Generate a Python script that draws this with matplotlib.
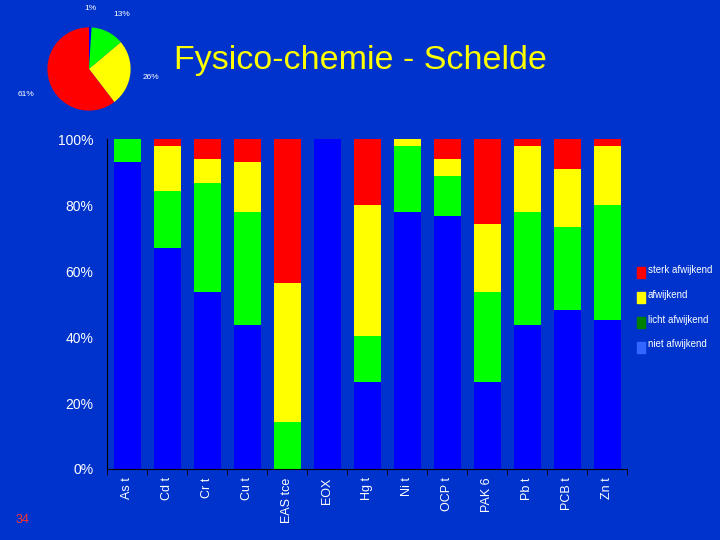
import numpy as np
import matplotlib
matplotlib.use('Agg')
import matplotlib.pyplot as plt

plt.rcParams['font.family'] = ['Liberation Sans', 'DejaVu Sans']

# share per parameter (%), stacked bottom to top
parameters = ["As t", "Cd t", "Cr t", "Cu t", "EAS tce", "EOX", "Hg t",
              "Ni t", "OCP t", "PAK 6", "Pb t", "PCB t", "Zn t"]
niet = [93, 67, 53.6, 43.7, 0, 100, 26.4, 78, 76.7, 26.4, 43.6, 48.2, 45.2]
licht = [7, 17.3, 33.2, 34.2, 14.2, 0, 13.9, 19.9, 12.1, 27.2, 34.3, 25.1, 34.8]
afwijkend = [0, 13.6, 7.1, 15.1, 42.2, 0, 39.7, 2.1, 5.1, 20.6, 20, 17.6, 17.9]
sterk = [0, 2.1, 6.1, 7, 43.6, 0, 20, 0, 6.1, 25.8, 2.1, 9.1, 2.1]

pie_values = [1, 13, 26, 61]
pie_labels = ["1%", "13%", "26%", "61%"]

series_labels = ["sterk afwijkend", "afwijkend", "licht afwijkend", "niet afwijkend"]
bar_colors = ["#FF0000", "#FFFF00", "#00FF00", "#0000FF"]
legend_colors = ["#FF0000", "#FFFF00", "#008000", "#3366FF"]
pie_colors = ["#0000FF", "#00FF00", "#FFFF00", "#FF0000"]

bg = "#0033CC"

fig = plt.figure(figsize=(7.2, 5.4), dpi=100, facecolor=bg)

ax = fig.add_axes([0.149, 0.1315, 0.722, 0.611])
ax.set_facecolor(bg)
x = np.arange(len(parameters))
width = 0.67
bottom = np.zeros(len(parameters))
stack = [niet, licht, afwijkend, sterk]
stack_colors = bar_colors[::-1]
for vals, col in zip(stack, stack_colors):
    ax.bar(x, vals, width, bottom=bottom, color=col, edgecolor="none")
    bottom += np.array(vals)

ax.set_xlim(-0.5, len(parameters) - 0.5)
ax.set_ylim(0, 100)
ax.set_yticks([0, 20, 40, 60, 80, 100])
ax.set_yticklabels(["0%", "20%", "40%", "60%", "80%", "100%"])
ax.set_xticks(x)
ax.set_xticklabels(parameters, rotation=90, va="top")
ax.set_xticks(np.arange(len(parameters) + 1) - 0.5, minor=True)
ax.tick_params(axis="x", which="major", length=0, colors="white", labelsize=9, pad=6)
ax.tick_params(axis="x", which="minor", length=4, color="black")
ax.tick_params(axis="y", length=0, colors="white", labelsize=10, pad=10)
for s in ["top", "right"]:
    ax.spines[s].set_visible(False)
for s in ["left", "bottom"]:
    ax.spines[s].set_color("black")

# legend
for i, (lab, col) in enumerate(zip(series_labels, legend_colors)):
    yy = 1 - (272 + i * 24.7) / 540
    fig.patches.append(plt.Rectangle((637 / 720, yy - 0.012), 8 / 720, 11 / 540,
                                     transform=fig.transFigure, color=col))
    fig.text(648 / 720, yy + 0.003, lab, color="white", fontsize=7, va="center")

# pie
pax = fig.add_axes([37 / 720, 1 - 121 / 540, 104 / 720, 104 / 540])
pax.pie(pie_values, colors=pie_colors, startangle=90, counterclock=False,
        wedgeprops=dict(edgecolor="none"))
pax.set_aspect("equal")
label_pos = [(90, 9), (122, 14), (151, 78), (26, 94)]
for lab, (px, py) in zip(pie_labels, label_pos):
    fig.text(px / 720, 1 - py / 540, lab, color="white", fontsize=6, ha="center", va="center")

fig.text(360 / 720, 1 - 60 / 540, "Fysico-chemie - Schelde", color="#FFFF00",
         fontsize=24.5, ha="center", va="center")
fig.text(22 / 720, 1 - 520 / 540, "34", color="#FF3333", fontsize=9, ha="center", va="center")

fig.savefig("out.png", dpi=100, facecolor=bg)
